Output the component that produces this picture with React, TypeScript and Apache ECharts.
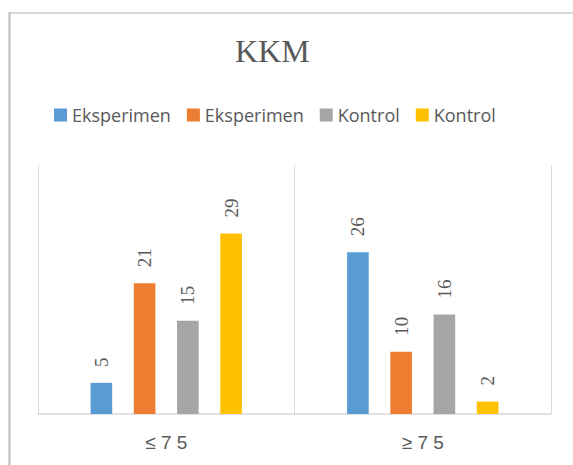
import React, { useEffect, useRef } from "react";
import * as echarts from "echarts";

const categories = ["≤ 7 5", "≥ 7 5"];
const seriesNames = ["Eksperimen#1", "Eksperimen#2", "Kontrol#1", "Kontrol#2"];
const seriesColors = ["#5B9BD5", "#ED7D31", "#A5A5A5", "#FFC000"];
const eksperimen1 = [5, 26];
const eksperimen2 = [21, 10];
const kontrol1 = [15, 16];
const kontrol2 = [29, 2];
const seriesValues = [eksperimen1, eksperimen2, kontrol1, kontrol2];

export default function App() {
  const ref = useRef<HTMLDivElement>(null);
  useEffect(() => {
    document.body.style.margin = "0";
    const chart = echarts.init(ref.current!, null, { renderer: "svg" });
    chart.setOption({
      animation: false,
      backgroundColor: "#ffffff",
      title: {
        text: "KKM",
        left: 230,
        top: 30,
        textStyle: {
          fontFamily: "Liberation Serif",
          fontSize: 32,
          fontWeight: "normal",
          color: "#595959",
        },
      },
      legend: {
        top: 101,
        left: 49,
        itemWidth: 13,
        itemHeight: 13,
        itemGap: 16,
        icon: "rect",
        formatter: (name: string) => name.split("#")[0],
        textStyle: { fontFamily: "Open Sans", fontSize: 18, color: "#595959" },
        data: seriesNames,
      },
      graphic: [
        {
          type: "line",
          shape: { x1: 9, y1: 13, x2: 573, y2: 13 },
          style: { stroke: "#d9d9d9", lineWidth: 2 },
        },
        {
          type: "line",
          shape: { x1: 9.5, y1: 12, x2: 9.5, y2: 465 },
          style: { stroke: "#c8c8c8", lineWidth: 2.5 },
        },
      ],
      grid: { left: 38, right: 22, top: 165, bottom: 51 },
      xAxis: {
        type: "category",
        data: categories,
        axisLine: { lineStyle: { color: "#d9d9d9", width: 1.5 } },
        axisTick: { show: false },
        splitLine: { show: true, lineStyle: { color: "#d9d9d9", width: 1 } },
        axisLabel: {
          color: "#595959",
          fontSize: 19,
          fontFamily: "Liberation Sans",
          margin: 19,
        },
      },
      yAxis: {
        type: "value",
        min: 0,
        max: 40,
        show: false,
        splitLine: { show: false },
      },
      series: seriesNames.map((name, i) => ({
        name,
        type: "bar",
        data: seriesValues[i],
        barGap: "100%",
        barCategoryGap: "41%",
        itemStyle: { color: seriesColors[i] },
        label: {
          show: true,
          position: "top",
          rotate: 90,
          align: "left",
          verticalAlign: "middle",
          distance: 16,
          color: "#595959",
          fontFamily: "Liberation Serif",
          fontSize: 19,
        },
      })),
    });
    return () => chart.dispose();
  }, []);
  return (
    <div
      ref={ref}
      style={{ position: "absolute", left: 0, top: 0, width: 573, height: 465 }}
    />
  );
}
